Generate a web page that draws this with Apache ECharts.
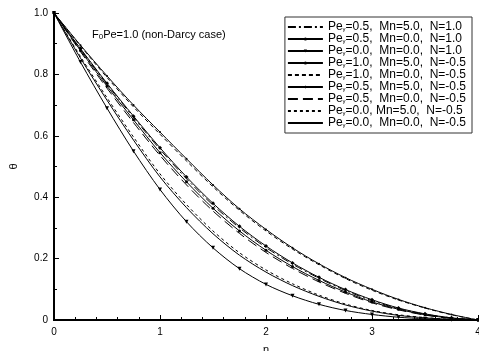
<!DOCTYPE html>
<html><head><meta charset="utf-8">
<script src="https://cdn.jsdelivr.net/npm/echarts@6/dist/echarts.min.js"></script>
<style>html,body{margin:0;padding:0;background:#fff}#c{width:479px;height:351px}</style>
</head><body><div id="c"></div>
<script>
const eta = [0,0.25,0.5,0.75,1,1.25,1.5,1.75,2,2.25,2.5,2.75,3,3.25,3.5,3.75,4];
const s1 = [1,0.882,0.768,0.66,0.556,0.46,0.374,0.3,0.236,0.182,0.136,0.096,0.063,0.037,0.019,0.007,0];
const s2 = [1,0.878,0.762,0.652,0.545,0.45,0.364,0.29,0.227,0.174,0.129,0.091,0.059,0.035,0.017,0.006,0];
const s3 = [1,0.84,0.69,0.55,0.425,0.32,0.235,0.167,0.116,0.079,0.051,0.031,0.018,0.009,0.004,0.001,0];
const s4 = [1,0.895,0.795,0.7,0.612,0.525,0.44,0.362,0.295,0.235,0.183,0.138,0.1,0.067,0.04,0.018,0];
const s5 = [1,0.893,0.79,0.694,0.605,0.518,0.434,0.357,0.29,0.231,0.18,0.135,0.097,0.065,0.039,0.017,0];
const s6 = [1,0.884,0.771,0.664,0.561,0.466,0.38,0.305,0.241,0.186,0.139,0.099,0.066,0.039,0.02,0.007,0];
const s7 = [1,0.874,0.755,0.643,0.536,0.44,0.355,0.282,0.22,0.168,0.124,0.087,0.056,0.033,0.016,0.005,0];
const s8 = [1,0.858,0.724,0.596,0.476,0.376,0.29,0.219,0.163,0.118,0.081,0.052,0.031,0.017,0.008,0.002,0];
const s9 = [1,0.853,0.716,0.586,0.466,0.366,0.281,0.211,0.156,0.112,0.077,0.049,0.029,0.015,0.007,0.002,0];
const labels = [
 '=0.5,  Mn=5.0,  N=1.0',
 '=0.5,  Mn=0.0,  N=1.0',
 '=0.0,  Mn=0.0,  N=1.0',
 '=1.0,  Mn=5.0,  N=-0.5',
 '=1.0,  Mn=0.0,  N=-0.5',
 '=0.5,  Mn=5.0,  N=-0.5',
 '=0.5,  Mn=0.0,  N=-0.5',
 '=0.0, Mn=5.0,  N=-0.5',
 '=0.0,  Mn=0.0,  N=-0.5'
];
const data = [s1,s2,s3,s4,s5,s6,s7,s8,s9];
const styles = [
 {type:[8,3,2,3], sym:'none'},
 {type:'solid', sym:'circle', size:3},
 {type:'solid', sym:'triangle', size:4, rot:180},
 {type:'solid', sym:'circle', size:2},
 {type:[4,3], sym:'none'},
 {type:'solid', sym:'diamond', size:4},
 {type:[10,5], sym:'none'},
 {type:[3,3], sym:'none'},
 {type:'solid', sym:'none'}
];
const names = labels.map((l,i)=>'Pe' + (i+1) + l);
const series = data.map((d,i)=>({
  name: names[i], type:'line', smooth:0.3,
  data: eta.map((x,j)=>[x,d[j]]),
  symbol: styles[i].sym, symbolSize: styles[i].size||0, symbolRotate: styles[i].rot||0,
  showSymbol: styles[i].sym!=='none',
  lineStyle:{color:'#000', width:1, type:styles[i].type},
  itemStyle:{color:'#000'},
  z: 2
}));
const legendData = names.map((n,i)=> styles[i].sym==='none'
  ? {name:n, itemStyle:{opacity:0}}
  : {name:n});
const chart = echarts.init(document.getElementById('c'), null, {renderer:'canvas'});
const font = 'Liberation Sans, Arial, sans-serif';
chart.setOption({
  animation:false,
  textStyle:{fontFamily:font},
  grid:{left:54, right:1, top:13, bottom:31, outerBoundsMode:'none', containLabel:false},
  title:{text:'{n|F}{s|0}{n|Pe=1.0 (non-Darcy case)}', left:87, top:23,
    textStyle:{fontWeight:'normal', rich:{n:{fontSize:11,color:'#000',fontFamily:font,fontWeight:'normal'},s:{fontSize:8,color:'#000',fontFamily:font,fontWeight:'normal',verticalAlign:'bottom',padding:[5,0,0,0]}}}},
  legend:{
    right:7, top:17, orient:'vertical', itemWidth:35, itemHeight:4, itemGap:0,
    padding:[4,6,4,2], borderColor:'#333', borderWidth:1, backgroundColor:'#fff',
    symbolRotate:'inherit',
    data: legendData,
    formatter: (n)=>{const i=names.indexOf(n); return '{n|Pe}{s|γ}{n|'+labels[i]+'}';},
    textStyle:{lineHeight:11, rich:{n:{fontSize:12,color:'#000',fontFamily:font,lineHeight:11},s:{fontSize:6,color:'#000',fontFamily:font,lineHeight:11,verticalAlign:'bottom'}}}
  },
  xAxis:[{
    type:'value', min:0, max:4, interval:1,
    name:'η', nameLocation:'middle', nameGap:24, nameTextStyle:{fontSize:11,color:'#000'},
    axisLine:{lineStyle:{color:'#000',width:2}},
    axisTick:{inside:true, length:5, lineStyle:{color:'#000'}},
    minorTick:{show:true, splitNumber:5, length:3, lineStyle:{color:'#000'}},
    axisLabel:{fontSize:10, color:'#000', margin:7},
    splitLine:{show:false}
  },{
    type:'value', position:'top', min:0, max:4, interval:1,
    axisLine:{show:true, lineStyle:{color:'#000',width:2}},
    axisTick:{show:false}, axisLabel:{show:false}, splitLine:{show:false}
  }],
  yAxis:[{
    type:'value', min:0, max:1, interval:0.2,
    name:'θ', nameLocation:'middle', nameGap:35, nameRotate:90, nameTextStyle:{fontSize:11,color:'#000'},
    axisLine:{lineStyle:{color:'#000',width:2}},
    axisTick:{inside:true, length:5, lineStyle:{color:'#000'}},
    minorTick:{show:true, splitNumber:2, length:3, lineStyle:{color:'#000'}},
    axisLabel:{fontSize:10, color:'#000', margin:6, formatter:v=> v===0?'0':v.toFixed(1)},
    splitLine:{show:false}
  },{
    type:'value', position:'right', min:0, max:1, interval:0.2,
    axisLine:{show:true, lineStyle:{color:'#000',width:1}},
    axisTick:{show:false}, axisLabel:{show:false}, splitLine:{show:false}
  }],
  series: series
});
</script></body></html>
